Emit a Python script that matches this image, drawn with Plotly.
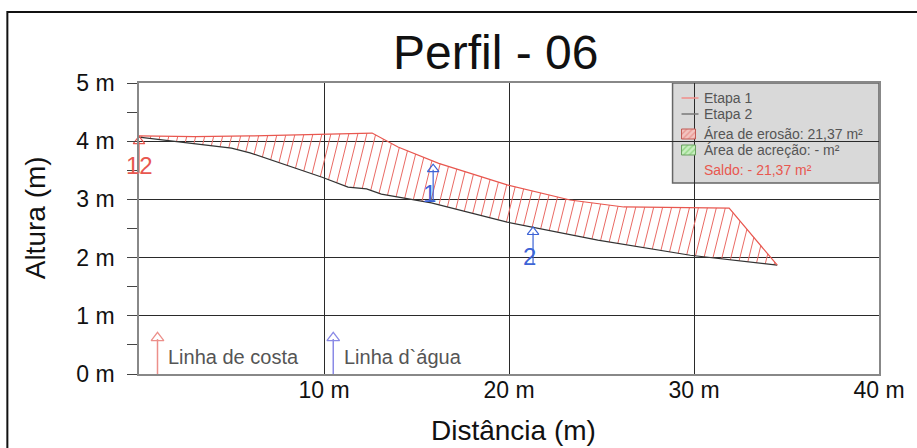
import numpy as np
import plotly.graph_objects as go

# Perfil 06 - distance (m) and height (m) of the two survey stages
etapa1_dist = [0.0, 3.0, 6.0, 9.0, 12.6, 14.0, 16.2, 19.9, 23.3, 26.2, 31.9, 34.5]
etapa1_alt = [4.09, 4.08, 4.09, 4.11, 4.14, 3.90, 3.62, 3.25, 2.99, 2.87, 2.85, 1.87]
etapa2_dist = [0.0, 5.0, 6.0, 9.9, 11.3, 12.3, 13.1, 14.0, 15.8, 19.9, 24.8, 29.8, 34.5]
etapa2_alt = [4.07, 3.88, 3.80, 3.38, 3.21, 3.18, 3.09, 3.04, 2.94, 2.61, 2.30, 2.04, 1.87]

# survey marks along the profile (arrow tip position)
marco_nome = ["12", "1", "2"]
marco_dist = [0.0, 15.9, 21.3]
marco_alt = [4.07, 3.59, 2.51]
marco_cor = ["#e8574f", "#3d63d6", "#3d63d6"]

# reference lines drawn at the base of the chart
ref_nome = ["Linha de costa", "Linha d`água"]
ref_dist = [1.0, 10.5]
ref_cor = ["#ec8f8a", "#8a8ae6"]

x_ticks = [10, 20, 30, 40]
x_ticktext = ["10 m", "20 m", "30 m", "40 m"]
y_ticks = [0, 1, 2, 3, 4, 5]
y_ticktext = ["0 m", "1 m", "2 m", "3 m", "4 m", "5 m"]

legenda_linhas = ["Etapa 1", "Etapa 2"]
legenda_areas = ["Área de erosão: 21,37 m²", "Área de acreção: - m²"]
legenda_saldo = "Saldo: - 21,37 m²"

FONT = "Liberation Sans, Arial, sans-serif"
RED = "#e8574f"

# plot-area geometry in pixels (used to place decorations)
L, R, T, B = 139, 881, 83, 374
W, H = 917, 448


def px(x):
    return (x - L) / (R - L)


def py(y):
    return (B - y) / (B - T)


def dx(x):
    return (x - L) / (R - L) * 40.0


def dy(y):
    return (B - y) / (B - T) * 5.0


fig = go.Figure()

# hatching of the erosion area between the two profiles
slant = 0.78
step = 0.485
xf = np.linspace(0, max(etapa1_dist), 4000)
lo = np.interp(xf, etapa2_dist, etapa2_alt)
up = np.interp(xf, etapa1_dist, etapa1_alt)
gl = xf - slant * lo
gu = xf - slant * up
c0 = max(gl[0], gu[0])
c1 = min(gl[-1], gu[-1])
hx, hy = [], []
for c in np.arange(c0 + step * 0.3, c1, step):
    xl = np.interp(c, gl, xf)
    xu = np.interp(c, gu, xf)
    yl = np.interp(xl, etapa2_dist, etapa2_alt)
    yu = np.interp(xu, etapa1_dist, etapa1_alt)
    if yu - yl < 0.02:
        continue
    hx += [xl, xu, None]
    hy += [yl, yu, None]
fig.add_trace(go.Scatter(x=hx, y=hy, mode="lines",
                         line=dict(color="#ea6a64", width=1),
                         hoverinfo="skip", showlegend=False))

# profiles
fig.add_trace(go.Scatter(x=etapa2_dist, y=etapa2_alt, mode="lines",
                         line=dict(color="#333333", width=1.2), name="Etapa 2",
                         showlegend=False))
fig.add_trace(go.Scatter(x=etapa1_dist, y=etapa1_alt, mode="lines",
                         line=dict(color=RED, width=1.2), name="Etapa 1",
                         showlegend=False))

# survey mark arrows
shaft = 0.62
for nome, xm, ym, cor in zip(marco_nome, marco_dist, marco_alt, marco_cor):
    fig.add_trace(go.Scatter(x=[xm, xm], y=[ym - shaft, ym - 0.08], mode="lines",
                             line=dict(color=cor, width=1.2), showlegend=False,
                             hoverinfo="skip", cliponaxis=False))
    fig.add_trace(go.Scatter(x=[xm], y=[ym - 0.07], mode="markers",
                             marker=dict(symbol="triangle-up-open", size=10,
                                         color=cor, line=dict(width=1.2, color=cor)),
                             showlegend=False, hoverinfo="skip", cliponaxis=False))
    fig.add_annotation(x=max(xm - 0.2, 0.05), y=ym - 0.49, text=nome, showarrow=False,
                       font=dict(family=FONT, size=24, color=cor),
                       xanchor="center", yanchor="middle")

# reference line arrows at the base
for nome, xr, cor in zip(ref_nome, ref_dist, ref_cor):
    fig.add_trace(go.Scatter(x=[xr, xr], y=[0, 0.6], mode="lines",
                             line=dict(color=cor, width=1.5), showlegend=False,
                             hoverinfo="skip"))
    fig.add_trace(go.Scatter(x=[xr], y=[0.62], mode="markers",
                             marker=dict(symbol="triangle-up-open", size=11,
                                         color=cor, line=dict(width=1.3, color=cor)),
                             showlegend=False, hoverinfo="skip"))
    fig.add_annotation(x=xr + 0.45, y=0.29, text=nome, showarrow=False,
                       font=dict(family=FONT, size=20, color="#555555"),
                       xanchor="left", yanchor="middle")

# legend panel
shapes = [
    dict(type="rect", xref="paper", yref="paper", x0=px(674), x1=px(881),
         y0=py(183), y1=py(83), fillcolor="#d9d9d9",
         line=dict(color="#666666", width=1.5), layer="between"),
    dict(type="line", xref="paper", yref="paper", x0=px(683), x1=px(700),
         y0=py(98), y1=py(98), line=dict(color="#f08c88", width=1.5)),
    dict(type="line", xref="paper", yref="paper", x0=px(683), x1=px(700),
         y0=py(114), y1=py(114), line=dict(color="#777777", width=1.5)),
    # outer frame
    dict(type="rect", xref="paper", yref="paper", x0=px(7), x1=px(930),
         y0=py(470), y1=py(12), line=dict(color="#111111", width=2),
         fillcolor="rgba(0,0,0,0)"),
]

swatches = [("#e06a64", "#f2c4c0", "#c05a55", 134),
            ("#5cbf4a", "#c8eec0", "#6aa060", 150)]
for fg, bg, edge, yc in swatches:
    x0, x1 = dx(683), dx(697)
    y0, y1 = dy(yc + 5), dy(yc - 5)
    fig.add_trace(go.Scatter(x=[x0, x1, x1, x0, x0], y=[y0, y0, y1, y1, y0],
                             mode="lines", fill="toself",
                             fillcolor=bg,
                             fillpattern=dict(shape="/", fgcolor=fg, bgcolor=bg,
                                              size=4, solidity=0.35),
                             line=dict(color=edge, width=1),
                             showlegend=False, hoverinfo="skip"))

leg_font = dict(family=FONT, size=14, color="#555555")
for txt, yc in zip(legenda_linhas, [98, 114]):
    fig.add_annotation(xref="paper", yref="paper", x=px(704), y=py(yc), text=txt,
                       showarrow=False, xanchor="left", yanchor="middle", font=leg_font)
for txt, yc in zip(legenda_areas, [134, 150]):
    fig.add_annotation(xref="paper", yref="paper", x=px(704), y=py(yc), text=txt,
                       showarrow=False, xanchor="left", yanchor="middle", font=leg_font)
fig.add_annotation(xref="paper", yref="paper", x=px(704), y=py(170), text=legenda_saldo,
                   showarrow=False, xanchor="left", yanchor="middle",
                   font=dict(family=FONT, size=14, color=RED))

# titles
fig.add_annotation(xref="paper", yref="paper", x=px(496), y=py(53), text="Perfil - 06",
                   showarrow=False, xanchor="center", yanchor="middle",
                   font=dict(family=FONT, size=48, color="#111111"))
fig.add_annotation(xref="paper", yref="paper", x=px(515), y=py(430),
                   text="Distância (m)", showarrow=False, xanchor="center",
                   yanchor="middle", font=dict(family=FONT, size=28, color="#111111"))
fig.add_annotation(xref="paper", yref="paper", x=px(35), y=py(218),
                   text="Altura (m)", showarrow=False, textangle=-90,
                   xanchor="center", yanchor="middle",
                   font=dict(family=FONT, size=28, color="#111111"))

fig.update_layout(
    width=W, height=H,
    margin=dict(l=L, r=W - R, t=T, b=H - B),
    paper_bgcolor="white", plot_bgcolor="white",
    shapes=shapes, showlegend=False,
    xaxis=dict(range=[0, 40], tickvals=x_ticks, ticktext=x_ticktext,
               showgrid=True, gridcolor="#2a2a2a", gridwidth=1,
               showline=True, linecolor="#888888", linewidth=1.5, mirror=True,
               ticks="", zeroline=False, ticklabelstandoff=-5,
               tickfont=dict(family=FONT, size=23, color="#111111")),
    yaxis=dict(range=[0, 5], tickvals=y_ticks, ticktext=y_ticktext,
               showgrid=True, gridcolor="#2a2a2a", gridwidth=1,
               showline=True, linecolor="#888888", linewidth=1.5, mirror=True,
               ticks="outside", ticklen=10, tickcolor="#444444", zeroline=False,
               ticklabelstandoff=8,
               minor=dict(dtick=0.5, ticks="outside", ticklen=10,
                          tickcolor="#444444", showgrid=False),
               tickfont=dict(family=FONT, size=23, color="#111111")),
)

fig.write_html("out.html")
